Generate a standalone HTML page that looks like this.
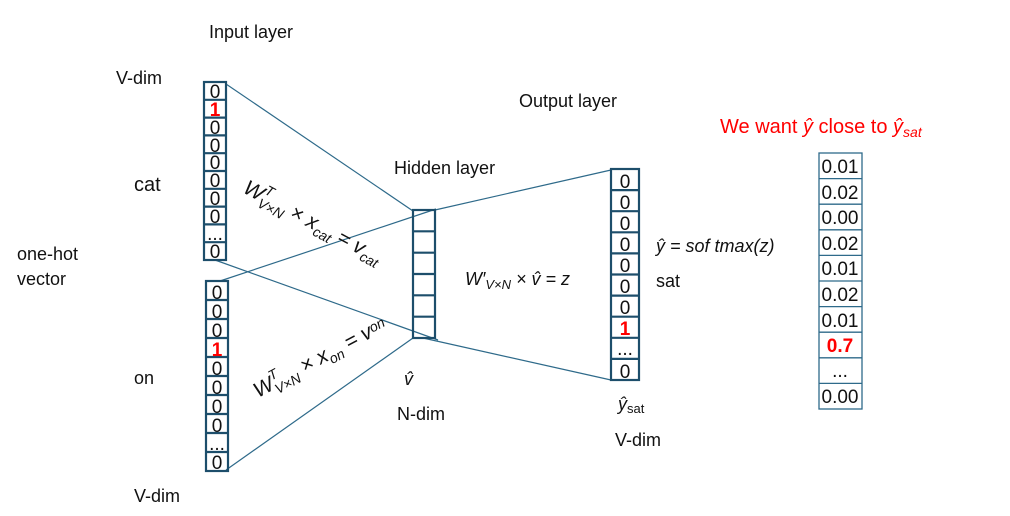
<!DOCTYPE html>
<html><head><meta charset="utf-8"><style>
body{margin:0;background:#fff}
svg{display:block}
text{font-family:"Liberation Sans",sans-serif;fill:#111}
.c{font-size:19px;text-anchor:middle}
.r{fill:#f00;font-weight:bold}
</style></head><body>
<svg width="1010" height="516" viewBox="0 0 1010 516" xmlns="http://www.w3.org/2000/svg">
<g stroke="#2e6a8a" stroke-width="1.2" fill="none">
<line x1="226" y1="84" x2="413" y2="211"/>
<line x1="215" y1="260" x2="438" y2="340"/>
<line x1="220" y1="281" x2="436" y2="209"/>
<line x1="226" y1="470" x2="413" y2="338"/>
<line x1="435" y1="210" x2="611" y2="170"/>
<line x1="423" y1="338" x2="611" y2="380"/>
</g>
<g stroke="#1d4e6b" stroke-width="2.2" fill="none">
<rect x="204" y="82" width="22" height="178"/>
<path d="M204 99.8h22M204 117.6h22M204 135.4h22M204 153.2h22M204 171h22M204 188.8h22M204 206.6h22M204 224.4h22M204 242.2h22"/>
<rect x="206" y="281" width="22" height="190"/>
<path d="M206 300h22M206 319h22M206 338h22M206 357h22M206 376h22M206 395h22M206 414h22M206 433h22M206 452h22"/>
<rect x="413" y="210" width="22" height="128"/>
<path d="M413 231.3h22M413 252.7h22M413 274h22M413 295.3h22M413 316.7h22"/>
<rect x="611" y="169" width="28" height="211"/>
<path d="M611 190.1h28M611 211.2h28M611 232.3h28M611 253.4h28M611 274.5h28M611 295.6h28M611 316.7h28M611 337.8h28M611 358.9h28"/>
</g>
<g stroke="#2e6a8a" stroke-width="1.3" fill="none">
<rect x="819" y="153" width="43" height="256"/>
<path d="M819 178.6h43M819 204.2h43M819 229.8h43M819 255.4h43M819 281h43M819 306.6h43M819 332.2h43M819 357.8h43M819 383.4h43"/>
</g>
<g class="c">
<text x="215" y="98">0</text><text x="215" y="116" class="r c">1</text><text x="215" y="134">0</text><text x="215" y="152">0</text><text x="215" y="169">0</text><text x="215" y="187">0</text><text x="215" y="205">0</text><text x="215" y="223">0</text><text x="215" y="240">...</text><text x="215" y="258">0</text>
<text x="217" y="299">0</text><text x="217" y="318">0</text><text x="217" y="337">0</text><text x="217" y="356" class="r c">1</text><text x="217" y="375">0</text><text x="217" y="394">0</text><text x="217" y="413">0</text><text x="217" y="432">0</text><text x="217" y="450">...</text><text x="217" y="469">0</text>
<text x="625" y="188">0</text><text x="625" y="209">0</text><text x="625" y="230">0</text><text x="625" y="251">0</text><text x="625" y="272">0</text><text x="625" y="293">0</text><text x="625" y="314">0</text><text x="625" y="335" class="r c">1</text><text x="625" y="355">...</text><text x="625" y="378">0</text>
<text x="840" y="173">0.01</text><text x="840" y="199">0.02</text><text x="840" y="224">0.00</text><text x="840" y="250">0.02</text><text x="840" y="275">0.01</text><text x="840" y="301">0.02</text><text x="840" y="327">0.01</text><text x="840" y="352" class="r c">0.7</text><text x="840" y="377">...</text><text x="840" y="403">0.00</text>
</g>
<g font-size="18">
<text x="209" y="38">Input layer</text>
<text x="116" y="84">V-dim</text>
<text x="134" y="191" font-size="20">cat</text>
<text x="17" y="260">one-hot</text>
<text x="17" y="285">vector</text>
<text x="134" y="384">on</text>
<text x="134" y="502">V-dim</text>
<text x="519" y="107">Output layer</text>
<text x="394" y="174">Hidden layer</text>
<text x="397" y="420">N-dim</text>
<text x="404" y="385" font-style="italic">v̂</text>
<text x="618" y="410" font-style="italic">ŷ<tspan font-size="13" font-style="normal" dy="3">sat</tspan></text>
<text x="615" y="446">V-dim</text>
<text x="656" y="287">sat</text>
<text x="656" y="252" font-style="italic">ŷ = sof tmax(z)</text>
<text x="465" y="285" font-style="italic">W′<tspan font-size="13" dy="4">V×N</tspan><tspan dy="-4"> × v̂ = z</tspan></text>
<text x="720" y="133" style="fill:#f00" font-size="20">We want <tspan font-style="italic">ŷ</tspan> close to <tspan font-style="italic">ŷ</tspan><tspan font-size="14" font-style="italic" dy="4">sat</tspan></text>
<text transform="translate(242,192) rotate(28)" font-style="italic" font-size="21">W<tspan font-size="14" dy="-9">T</tspan><tspan font-size="14" dx="-9" dy="15">V×N</tspan><tspan dy="-6"> × x</tspan><tspan font-size="14" dy="5">cat</tspan><tspan dy="-5"> = v</tspan><tspan font-size="14" dy="5">cat</tspan></text>
<text transform="translate(258,398) rotate(-28)" font-style="italic" font-size="21">W<tspan font-size="14" dy="-9">T</tspan><tspan font-size="14" dx="-9" dy="15">V×N</tspan><tspan dy="-6"> × x</tspan><tspan font-size="14" dy="5">on</tspan><tspan dy="-5"> = v</tspan><tspan font-size="14" dy="-4">on</tspan></text>
</g>
</svg>
</body></html>
